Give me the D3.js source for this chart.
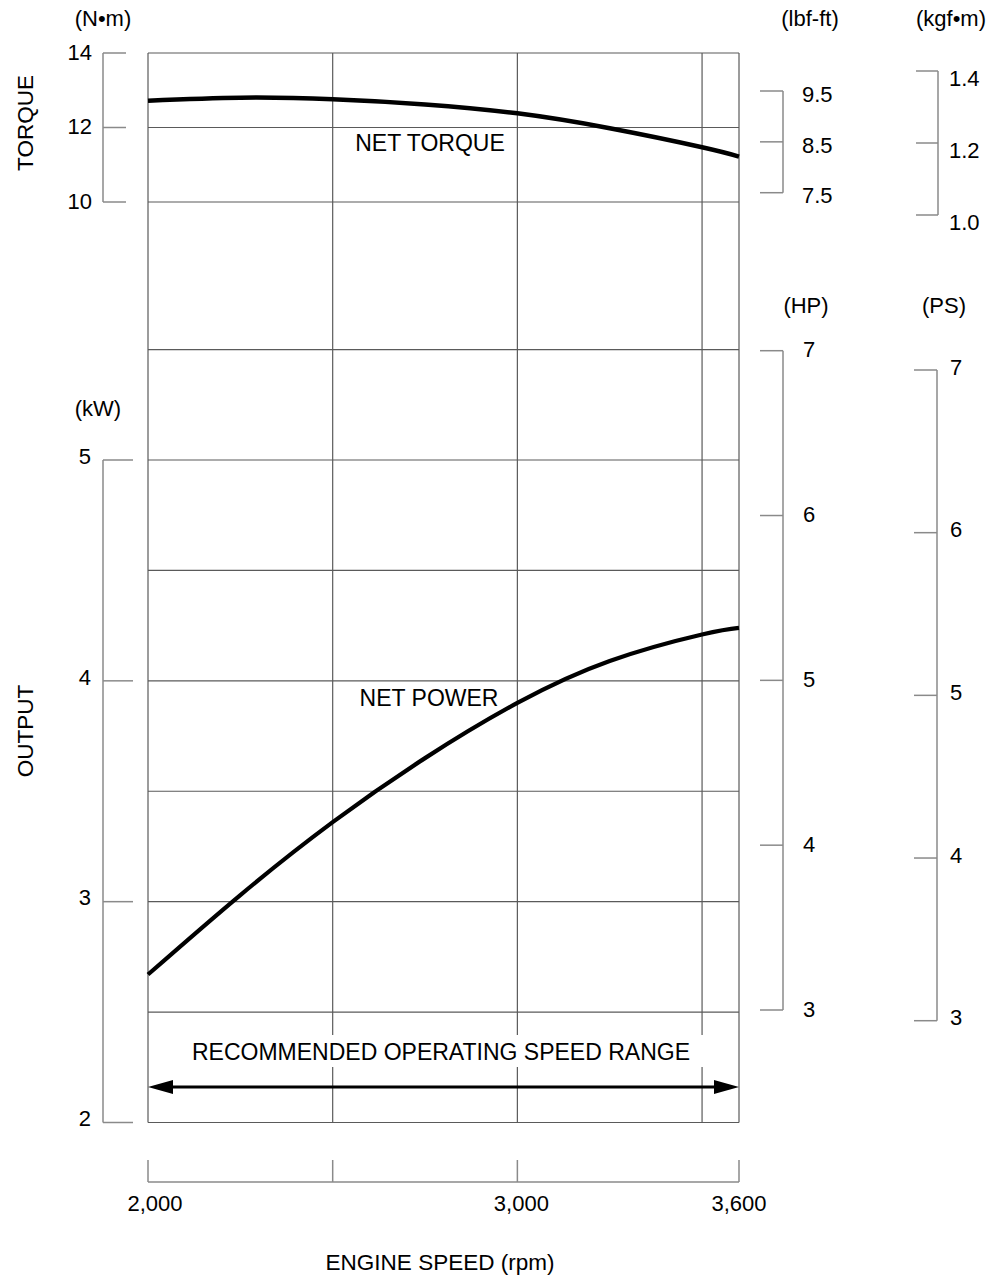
<!DOCTYPE html>
<html>
<head>
<meta charset="utf-8">
<script src="https://cdn.jsdelivr.net/npm/d3@7"></script>
<style>
  body { margin: 0; background: #fff; }
  svg { display: block; font-family: "Liberation Sans", Arial, sans-serif; }
</style>
</head>
<body>
<div id="chart"></div>
<script>
const FRAME_WIDTH = 997;
const FRAME_HEIGHT = 1278;

// engine curve
const RPM = [2000, 2250, 2500, 2750, 3000, 3250, 3500, 3600];
const TORQUE_NM = [12.72, 12.80, 12.76, 12.62, 12.38, 11.98, 11.47, 11.22];
const POWER_KW = [2.67, 3.03, 3.36, 3.65, 3.90, 4.09, 4.21, 4.24];

// axis ticks
const RPM_TICKS = [2000, 2500, 3000, 3600];
const RPM_LABELS = [2000, 3000, 3600];
const RPM_GRID = [2000, 2500, 3000, 3500, 3600];
const NM_TICKS = [10, 12, 14];
const LBF_TICKS = [7.5, 8.5, 9.5];
const KGF_TICKS = [1.0, 1.2, 1.4];
const KW_TICKS = [2, 3, 4, 5];
const KW_GRID = [2, 2.5, 3, 3.5, 4, 4.5, 5, 5.5];
const HP_TICKS = [3, 4, 5, 6, 7];
const PS_TICKS = [3, 4, 5, 6, 7];
const SPEED_RANGE = [2000, 3600];

const SVG = d3.select("#chart")
  .append("svg")
    .attr("width", FRAME_WIDTH)
    .attr("height", FRAME_HEIGHT);

// scales
const X_SCALE = d3.scaleLinear().domain([2000, 3600]).range([148, 739]);
const Y_NM = d3.scaleLinear().domain([10, 14]).range([202, 53]);
const Y_KW = d3.scaleLinear().domain([2, 5]).range([1122.5, 460]);
// the secondary scales in the original sheet are not exactly aligned with the primary ones
const Y_LBF = d3.scaleLinear().domain([7.5, 9.5]).range([192.7, 91]);
const Y_KGF = d3.scaleLinear().domain([1.0, 1.4]).range([215, 71]);
const Y_HP = d3.scaleLinear().domain([3, 7]).range([1010, 350.7]);
const Y_PS = d3.scaleLinear().domain([3, 7]).range([1020.7, 370]);

const GRID_COLOR = "#5a5a5a";
const AXIS_COLOR = "#8a8a8a";
const TEXT_COLOR = "#000";

// grid
const grid = SVG.append("g");
grid.selectAll(".hgrid-nm")
  .data(NM_TICKS)
  .enter()
  .append("line")
    .attr("x1", X_SCALE(2000)).attr("x2", X_SCALE(3600))
    .attr("y1", (d) => Y_NM(d)).attr("y2", (d) => Y_NM(d))
    .attr("stroke", GRID_COLOR).attr("stroke-width", 1.2);

grid.selectAll(".hgrid-kw")
  .data(KW_GRID)
  .enter()
  .append("line")
    .attr("x1", X_SCALE(2000)).attr("x2", X_SCALE(3600))
    .attr("y1", (d) => Y_KW(d)).attr("y2", (d) => Y_KW(d))
    .attr("stroke", GRID_COLOR).attr("stroke-width", 1.2);

grid.selectAll(".vgrid")
  .data(RPM_GRID)
  .enter()
  .append("line")
    .attr("x1", (d) => X_SCALE(d)).attr("x2", (d) => X_SCALE(d))
    .attr("y1", Y_NM(14)).attr("y2", Y_KW(2))
    .attr("stroke", GRID_COLOR).attr("stroke-width", 1.2);

// bracket style axis: a vertical line with short ticks on one side
function bracketAxis(scale, ticks, opt) {
  const g = SVG.append("g");
  const ext = d3.extent(ticks);
  g.append("line")
    .attr("x1", opt.x).attr("x2", opt.x)
    .attr("y1", scale(ext[0])).attr("y2", scale(ext[1]))
    .attr("stroke", AXIS_COLOR).attr("stroke-width", 1.5);
  g.selectAll(".tick")
    .data(ticks)
    .enter()
    .append("line")
      .attr("x1", opt.x).attr("x2", opt.x + opt.tick)
      .attr("y1", (d) => scale(d)).attr("y2", (d) => scale(d))
      .attr("stroke", AXIS_COLOR).attr("stroke-width", 1.5);
  g.selectAll("text")
    .data(ticks)
    .enter()
    .append("text")
      .attr("x", opt.labelX)
      .attr("y", (d) => scale(d) + opt.dy)
      .attr("dy", "0.35em")
      .attr("text-anchor", opt.anchor)
      .attr("font-size", "22px")
      .attr("fill", TEXT_COLOR)
      .text(opt.fmt);
  return g;
}

bracketAxis(Y_NM, NM_TICKS, {x: 103, tick: 23, labelX: 92, anchor: "end", dy: -1, fmt: (d) => d});
bracketAxis(Y_KW, KW_TICKS, {x: 103, tick: 30, labelX: 91, anchor: "end", dy: -4, fmt: (d) => d});
bracketAxis(Y_LBF, LBF_TICKS, {x: 783, tick: -23, labelX: 802, anchor: "start", dy: 3, fmt: d3.format(".1f")});
bracketAxis(Y_KGF, KGF_TICKS, {x: 938, tick: -22, labelX: 949, anchor: "start", dy: 7, fmt: d3.format(".1f")});
bracketAxis(Y_HP, HP_TICKS, {x: 783, tick: -23, labelX: 803, anchor: "start", dy: -1, fmt: (d) => d});
bracketAxis(Y_PS, PS_TICKS, {x: 937, tick: -23, labelX: 950, anchor: "start", dy: -3, fmt: (d) => d});

// engine speed axis below the plot
const xAxis = SVG.append("g");
xAxis.append("line")
  .attr("x1", X_SCALE(2000)).attr("x2", X_SCALE(3600))
  .attr("y1", 1182).attr("y2", 1182)
  .attr("stroke", AXIS_COLOR).attr("stroke-width", 1.5);
xAxis.selectAll(".tick")
  .data(RPM_TICKS)
  .enter()
  .append("line")
    .attr("x1", (d) => X_SCALE(d)).attr("x2", (d) => X_SCALE(d))
    .attr("y1", 1160).attr("y2", 1182)
    .attr("stroke", AXIS_COLOR).attr("stroke-width", 1.5);
xAxis.selectAll("text")
  .data(RPM_LABELS)
  .enter()
  .append("text")
    .attr("x", (d) => X_SCALE(d) + (d === 2000 ? 7 : (d === 3000 ? 4 : 0)))
    .attr("y", 1211)
    .attr("text-anchor", "middle")
    .attr("font-size", "22px")
    .attr("fill", TEXT_COLOR)
    .text(d3.format(","));

// unit labels
const UNITS = [
  {t: "(N\u2022m)", x: 103, y: 26},
  {t: "(lbf-ft)", x: 810, y: 26},
  {t: "(kgf\u2022m)", x: 951, y: 26},
  {t: "(HP)", x: 806, y: 313},
  {t: "(PS)", x: 944, y: 313},
  {t: "(kW)", x: 98, y: 416}
];
SVG.selectAll(".unit")
  .data(UNITS)
  .enter()
  .append("text")
    .attr("x", (d) => d.x).attr("y", (d) => d.y)
    .attr("text-anchor", "middle")
    .attr("font-size", "22px")
    .attr("fill", TEXT_COLOR)
    .text((d) => d.t);

// rotated axis titles
SVG.append("text")
  .attr("transform", "translate(33,123) rotate(-90)")
  .attr("text-anchor", "middle")
  .attr("font-size", "22.5px").attr("fill", TEXT_COLOR)
  .text("TORQUE");
SVG.append("text")
  .attr("transform", "translate(33,731) rotate(-90)")
  .attr("text-anchor", "middle")
  .attr("font-size", "22.5px").attr("fill", TEXT_COLOR)
  .text("OUTPUT");

SVG.append("text")
  .attr("x", 440).attr("y", 1270)
  .attr("text-anchor", "middle")
  .attr("font-size", "22.5px").attr("fill", TEXT_COLOR)
  .text("ENGINE SPEED (rpm)");

// recommended range label with a white box that cuts the grid
const rangeLabel = SVG.append("g");
const rangeText = rangeLabel.append("text")
  .attr("x", 441).attr("y", 1060)
  .attr("text-anchor", "middle")
  .attr("font-size", "23px").attr("fill", TEXT_COLOR)
  .text("RECOMMENDED OPERATING SPEED RANGE");
const bb = rangeText.node().getBBox();
rangeLabel.insert("rect", "text")
  .attr("x", bb.x - 8).attr("y", 1035)
  .attr("width", bb.width + 22).attr("height", 32)
  .attr("fill", "#fff");

// range arrow
const ARROW_Y = 1087;
const x0 = X_SCALE(SPEED_RANGE[0]);
const x1 = X_SCALE(SPEED_RANGE[1]);
SVG.append("line")
  .attr("x1", x0 + 20).attr("x2", x1 - 20)
  .attr("y1", ARROW_Y).attr("y2", ARROW_Y)
  .attr("stroke", "#000").attr("stroke-width", 3);
SVG.append("path")
  .attr("d", `M${x0},${ARROW_Y} L${x0 + 25},${ARROW_Y - 7} L${x0 + 25},${ARROW_Y + 7} Z`)
  .attr("fill", "#000");
SVG.append("path")
  .attr("d", `M${x1},${ARROW_Y} L${x1 - 25},${ARROW_Y - 7} L${x1 - 25},${ARROW_Y + 7} Z`)
  .attr("fill", "#000");

// curves
const torqueLine = d3.line()
  .x((d, i) => X_SCALE(RPM[i]))
  .y((d) => Y_NM(d))
  .curve(d3.curveNatural);
const powerLine = d3.line()
  .x((d, i) => X_SCALE(RPM[i]))
  .y((d) => Y_KW(d))
  .curve(d3.curveNatural);

SVG.append("path")
  .datum(TORQUE_NM)
  .attr("d", torqueLine)
  .attr("fill", "none").attr("stroke", "#000").attr("stroke-width", 4.5);
SVG.append("path")
  .datum(POWER_KW)
  .attr("d", powerLine)
  .attr("fill", "none").attr("stroke", "#000").attr("stroke-width", 4.2);

SVG.append("text")
  .attr("x", 430).attr("y", 151)
  .attr("text-anchor", "middle")
  .attr("font-size", "23px").attr("fill", TEXT_COLOR)
  .text("NET TORQUE");
SVG.append("text")
  .attr("x", 429).attr("y", 706)
  .attr("text-anchor", "middle")
  .attr("font-size", "23px").attr("fill", TEXT_COLOR)
  .text("NET POWER");
</script>
</body>
</html>
